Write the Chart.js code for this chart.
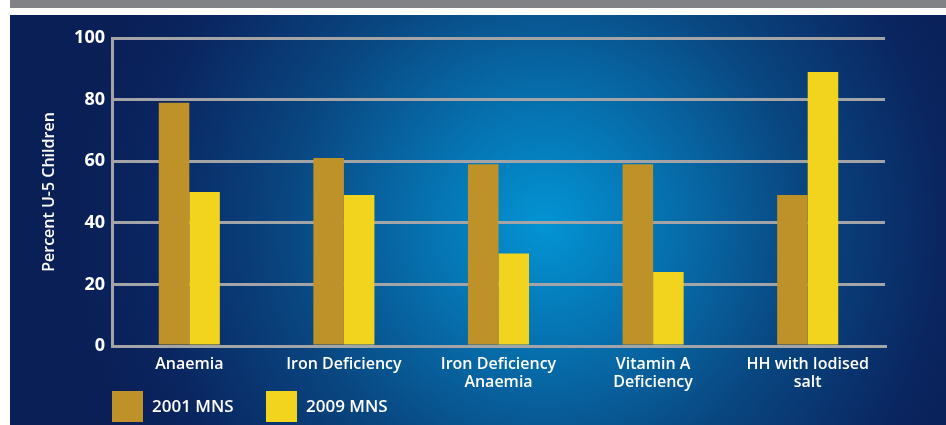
<!DOCTYPE html>
<html>
<head>
<meta charset="utf-8">
<script src="https://cdn.jsdelivr.net/npm/chart.js@4.4.1/dist/chart.umd.min.js"></script>
<style>
    html, body { margin: 0; padding: 0; background: #fff; }
    #wrap { position: relative; width: 946px; height: 425px; }
</style>
</head>
<body>
<div id="wrap"><canvas id="Nutrition-Chart" width="946" height="425"></canvas></div>
<script>
// data
const categories = ['Anaemia', 'Iron Deficiency', ['Iron Deficiency', 'Anaemia'], ['Vitamin A', 'Deficiency'], ['HH with Iodised', 'salt']];
const mns2001 = [79, 61, 59, 59, 49];
const mns2009 = [50, 49, 30, 24, 89];
const yTicks = [0, 20, 40, 60, 80, 100];

const gridGrey = '#a2a4a8';
const font = 'Open Sans';

// page background: grey strip on top, blue panel with a light centre
const backdrop = {
    id: 'backdrop',
    beforeDraw(chart) {
        const c = chart.ctx;
        c.save();
        c.fillStyle = '#ffffff';
        c.fillRect(0, 0, 946, 425);
        c.fillStyle = '#818286';
        c.fillRect(10, 0, 936, 8);
        let g = c.createRadialGradient(545, 225, 0, 545, 225, 470);
        g.addColorStop(0, '#0394d4');
        g.addColorStop(0.25, '#0672b0');
        g.addColorStop(0.55, '#094680');
        g.addColorStop(0.85, '#0a2560');
        g.addColorStop(1, '#0a1f56');
        c.fillStyle = g;
        c.fillRect(10, 15, 936, 410);
        c.restore();
    }
};

// legend squares under the axis, left aligned with the plot
const squareLegend = {
    id: 'squareLegend',
    afterDraw(chart) {
        const c = chart.ctx;
        const left = chart.chartArea.left;
        const starts = [left, left + 154];
        c.save();
        c.font = '600 17px "' + font + '"';
        c.textBaseline = 'middle';
        chart.data.datasets.forEach((ds, i) => {
            c.fillStyle = ds.backgroundColor;
            c.fillRect(starts[i], 391, 31, 31);
            c.fillStyle = '#ffffff';
            c.fillText(ds.label, starts[i] + 40, 407);
        });
        c.restore();
    }
};

window.onload = function () {
    var ctx = document.getElementById('Nutrition-Chart').getContext('2d');

    var chart = new Chart(ctx, {
        type: 'bar',
        data: {
            labels: categories,
            datasets: [
                {
                    label: '2001 MNS',
                    data: mns2001,
                    backgroundColor: '#bf9129',
                    borderWidth: 0,
                    categoryPercentage: 0.395,
                    barPercentage: 1
                },
                {
                    label: '2009 MNS',
                    data: mns2009,
                    backgroundColor: '#f2d41f',
                    borderWidth: 0,
                    categoryPercentage: 0.395,
                    barPercentage: 1
                }
            ]
        },
        options: {
            responsive: false,
            animation: false,
            layout: { padding: { left: 10, right: 61, top: 38, bottom: 0 } },
            plugins: {
                legend: { display: false },
                tooltip: { enabled: false }
            },
            scales: {
                x: {
                    grid: {
                        drawTicks: false,
                        lineWidth: 3,
                        color: (c) => c.index === categories.length ? gridGrey : 'rgba(0,0,0,0)'
                    },
                    border: { color: gridGrey, width: 3 },
                    ticks: {
                        color: '#ffffff',
                        padding: 9,
                        maxRotation: 0,
                        autoSkip: false,
                        font: { family: font, size: 16, weight: '600', lineHeight: 1.15 }
                    },
                    afterFit: (s) => { s.height = 79; }
                },
                y: {
                    min: 0,
                    max: 100,
                    afterBuildTicks: (s) => { s.ticks = yTicks.map(v => ({ value: v })); },
                    grid: { color: gridGrey, lineWidth: 3, drawTicks: false },
                    border: { color: gridGrey, width: 3 },
                    ticks: {
                        color: '#ffffff',
                        padding: 7,
                        font: { family: font, size: 18, weight: '700' }
                    },
                    title: {
                        display: true,
                        text: 'Percent U-5 Children',
                        color: '#ffffff',
                        padding: { top: 30, bottom: 6 },
                        font: { family: font, size: 16, weight: '600' }
                    },
                    afterFit: (s) => { s.width = 102; }
                }
            }
        },
        plugins: [backdrop, squareLegend]
    });
};
</script>
</body>
</html>
